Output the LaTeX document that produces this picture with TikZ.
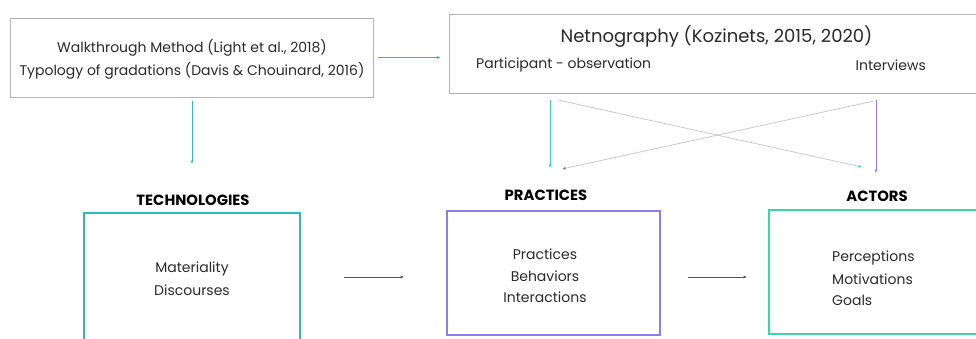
\documentclass[tikz,border=0pt]{standalone}
\usepackage{fontspec}
\setmainfont{Poppins}
\usetikzlibrary{arrows.meta}
\definecolor{tealc}{HTML}{3DB3BE}
\definecolor{purplec}{HTML}{8C80E3}
\definecolor{greenc}{HTML}{3FD3A0}
\definecolor{grayb}{HTML}{B4B4B4}
\definecolor{grayl}{HTML}{CACACA}
\definecolor{txtc}{HTML}{2A2A2A}
\begin{document}
\begin{tikzpicture}[x=1pt,y=-1pt,
  graybox/.style={draw=grayb, line width=0.8pt, rectangle, inner sep=0pt},
  colbox/.style={draw=#1, line width=1.7pt, rectangle, inner sep=0pt},
  txt/.style={inner sep=0pt, text=txtc, font=\fontsize{14}{16}\selectfont},
  bigtxt/.style={inner sep=0pt, text=txtc, font=\fontsize{18}{21}\selectfont},
  head/.style={inner sep=0pt, text=black, font=\fontsize{14.8}{17}\selectfont\bfseries},
  arr/.style={line width=0.9pt, -{Latex[length=3.5pt,width=3pt]}},
]
\useasboundingbox (0,0) rectangle (976,338);
\clip (0,0) rectangle (976,338);
\fill[white] (0,0) rectangle (976,338);

% top boxes
\node[graybox, minimum width=363pt, minimum height=79pt] (wm) at (191.5,57.5) {};
\node[txt] (wm1) at (192,48) {Walkthrough Method (Light et al., 2018)};
\node[txt] (wm2) at (192,71) {Typology of gradations (Davis \& Chouinard, 2016)};

\node[graybox, minimum width=531pt, minimum height=79pt] (net) at (714.5,53.5) {};
\node[bigtxt] (net1) at (716.5,37) {Netnography (Kozinets, 2015, 2020)};
\node[txt, anchor=west] (po) at (476,65) {Participant - observation};
\node[txt, anchor=east] (iv) at (926,65) {Interviews};

% headers
\node[head] (techh) at (193,200) {TECHNOLOGIES};
\node[head] (prach) at (546,195) {PRACTICES};
\node[head] (acth) at (877,196) {ACTORS};

% bottom boxes
\node[colbox=tealc, minimum width=216pt, minimum height=140pt] (tech) at (192,283) {};
\node[colbox=purplec, minimum width=213pt, minimum height=124pt] (prac) at (553.5,273) {};
\node[colbox=greenc, minimum width=216pt, minimum height=124pt] (act) at (877,272) {};

\node[txt] (m1) at (192,269) {Materiality};
\node[txt] (m2) at (192,290) {Discourses};

\node[txt] (p1) at (545,254) {Practices};
\node[txt] (p2) at (545,276) {Behaviors};
\node[txt] (p3) at (545,297) {Interactions};

\node[txt, anchor=west] (a1) at (832,258) {Perceptions};
\node[txt, anchor=west] (a2) at (832,279) {Motivations};
\node[txt, anchor=west] (a3) at (832,300) {Goals};

% connector end points
\coordinate (tdown1) at (192,101);
\coordinate (tdown2) at (192,164);
\coordinate (pd1) at (550,100);
\coordinate (pd2) at (550,168);
\coordinate (ad1) at (876,100);
\coordinate (ad2) at (876,173);
\coordinate (c1s) at (558,100);
\coordinate (c1e) at (862,167);
\coordinate (c2s) at (874,101);
\coordinate (c2e) at (562,169);

% connectors
\draw[arr, tealc, shorten <=5pt, shorten >=8pt] (wm.east) -- (net.west |- wm.east);
\draw[arr, tealc] (tdown1) -- (tdown2);
\draw[arr, greenc] (pd1) -- (pd2);
\draw[arr, purplec] (ad1) -- (ad2);
\draw[grayl, line width=0.8pt, -{Latex[length=3.5pt,width=3pt,color=greenc]}] (c1s) -- (c1e);
\draw[grayl, line width=0.8pt, -{Latex[length=3.5pt,width=3pt,color=gray]}] (c2s) -- (c2e);
\draw[arr, txtc!80, shorten <=43pt, shorten >=42pt] (tech.east |- 0,277) -- (prac.west |- 0,277);
\draw[arr, txtc!80, shorten <=27pt, shorten >=21pt] (prac.east |- 0,277) -- (act.west |- 0,277);
\end{tikzpicture}
\end{document}
